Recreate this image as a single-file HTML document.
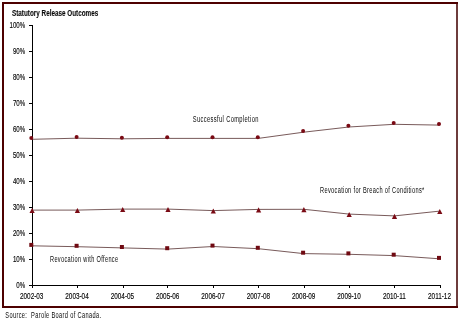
<!DOCTYPE html>
<html><head><meta charset="utf-8">
<style>
html,body{margin:0;padding:0;background:#fff;}
body{width:460px;height:323px;overflow:hidden;position:relative;}
svg{position:absolute;left:0;top:0;will-change:transform;}
text{font-family:"Liberation Sans",sans-serif;}
</style></head>
<body>
<svg width="460" height="323" viewBox="0 0 460 323">
  <!-- frame -->
  <rect x="456" y="2" width="2" height="306" fill="#6e3c3c"/>
  <rect x="2" y="2" width="456" height="2" fill="#4d0000"/>
  <rect x="2" y="2" width="2" height="306" fill="#4d0000"/>
  <rect x="2" y="306" width="456" height="2" fill="#4d0000"/>

  <!-- title -->
  <text font-size="8.3" font-weight="bold" fill="#0a0a0a" style="stroke:#000;stroke-width:0.1" transform="translate(12,16) scale(0.765,1)">Statutory Release Outcomes</text>

  <!-- y axis -->
  <rect x="32" y="25" width="1" height="263" fill="#000"/>
  <g fill="#000">
    <rect x="29" y="25" width="3" height="1"/>
    <rect x="29" y="51" width="3" height="1"/>
    <rect x="29" y="77" width="3" height="1"/>
    <rect x="29" y="103" width="3" height="1"/>
    <rect x="29" y="129" width="3" height="1"/>
    <rect x="29" y="155" width="3" height="1"/>
    <rect x="29" y="181" width="3" height="1"/>
    <rect x="29" y="207" width="3" height="1"/>
    <rect x="29" y="233" width="3" height="1"/>
    <rect x="29" y="259" width="3" height="1"/>
  </g>
  <!-- x axis -->
  <rect x="29" y="285" width="412" height="1" fill="#000"/>
  <g fill="#000">
    <rect x="32" y="285" width="1" height="3"/>
    <rect x="77" y="285" width="1" height="3"/>
    <rect x="123" y="285" width="1" height="3"/>
    <rect x="167" y="285" width="1" height="3"/>
    <rect x="213" y="285" width="1" height="3"/>
    <rect x="258" y="285" width="1" height="3"/>
    <rect x="304" y="285" width="1" height="3"/>
    <rect x="349" y="285" width="1" height="3"/>
    <rect x="394" y="285" width="1" height="3"/>
    <rect x="440" y="285" width="1" height="3"/>
  </g>

  <!-- y labels -->
  <g font-size="8.5" fill="#0a0a0a" text-anchor="end" style="stroke:#000;stroke-width:0.15">
    <text transform="translate(25.2,28) scale(0.72,1)">100%</text>
    <text transform="translate(25.2,54) scale(0.72,1)">90%</text>
    <text transform="translate(25.2,80) scale(0.72,1)">80%</text>
    <text transform="translate(25.2,106) scale(0.72,1)">70%</text>
    <text transform="translate(25.2,132) scale(0.72,1)">60%</text>
    <text transform="translate(25.2,158) scale(0.72,1)">50%</text>
    <text transform="translate(25.2,184) scale(0.72,1)">40%</text>
    <text transform="translate(25.2,210) scale(0.72,1)">30%</text>
    <text transform="translate(25.2,236) scale(0.72,1)">20%</text>
    <text transform="translate(25.2,262) scale(0.72,1)">10%</text>
    <text transform="translate(25.2,288) scale(0.72,1)">0%</text>
  </g>
  <!-- x labels -->
  <g font-size="8.5" fill="#0a0a0a" text-anchor="middle" style="stroke:#000;stroke-width:0.15">
    <text transform="translate(31.7,299) scale(0.75,1)">2002-03</text>
    <text transform="translate(77,299) scale(0.75,1)">2003-04</text>
    <text transform="translate(122.4,299) scale(0.75,1)">2004-05</text>
    <text transform="translate(167.7,299) scale(0.75,1)">2005-06</text>
    <text transform="translate(213,299) scale(0.75,1)">2006-07</text>
    <text transform="translate(258.4,299) scale(0.75,1)">2007-08</text>
    <text transform="translate(303.7,299) scale(0.75,1)">2008-09</text>
    <text transform="translate(349,299) scale(0.75,1)">2009-10</text>
    <text transform="translate(394.4,299) scale(0.75,1)">2010-11</text>
    <text transform="translate(439.5,299) scale(0.75,1)">2011-12</text>
  </g>

  <!-- series lines -->
  <g fill="none" stroke="#553030" stroke-width="0.8">
    <polyline points="31.8,139.3 77.1,138.2 122.4,138.8 167.7,138.4 213.0,138.4 258.3,138.4 303.6,132.2 348.9,127.0 394.2,124.3 439.5,125.1"/>
    <polyline points="32.1,210.1 77.4,210.1 122.7,209.1 168.0,209.1 213.3,210.6 258.6,209.4 303.9,209.3 349.2,214.1 394.5,215.9 439.8,211.1"/>
    <polyline points="31.8,245.8 77.1,246.7 122.4,247.9 167.7,249.1 213.0,246.5 258.3,248.7 303.6,253.6 348.9,254.3 394.2,255.6 439.5,258.8"/>
  </g>
  <!-- markers -->
  <g fill="#7a0a14">
    <circle cx="31.3" cy="138.1" r="2.0"/>
    <circle cx="76.6" cy="137.0" r="2.0"/>
    <circle cx="121.9" cy="137.65" r="2.0"/>
    <circle cx="167.2" cy="137.2" r="2.0"/>
    <circle cx="212.5" cy="137.2" r="2.0"/>
    <circle cx="257.8" cy="137.25" r="2.0"/>
    <circle cx="303.1" cy="131.0" r="2.0"/>
    <circle cx="348.4" cy="125.8" r="2.0"/>
    <circle cx="393.7" cy="123.1" r="2.0"/>
    <circle cx="439.0" cy="123.9" r="2.0"/>
  </g>
  <g fill="#7a0a14">
    <path d="M32.1,207.9 l2.6,5.2 h-5.2z"/>
    <path d="M77.4,207.9 l2.6,5.2 h-5.2z"/>
    <path d="M122.7,206.9 l2.6,5.2 h-5.2z"/>
    <path d="M168.0,206.9 l2.6,5.2 h-5.2z"/>
    <path d="M213.3,208.4 l2.6,5.2 h-5.2z"/>
    <path d="M258.6,207.2 l2.6,5.2 h-5.2z"/>
    <path d="M303.9,207.1 l2.6,5.2 h-5.2z"/>
    <path d="M349.2,211.9 l2.6,5.2 h-5.2z"/>
    <path d="M394.5,213.7 l2.6,5.2 h-5.2z"/>
    <path d="M439.8,208.9 l2.6,5.2 h-5.2z"/>
  </g>
  <g fill="#700a12">
    <rect x="29.30" y="242.9" width="4" height="4"/>
    <rect x="74.60" y="243.8" width="4" height="4"/>
    <rect x="119.90" y="245.0" width="4" height="4"/>
    <rect x="165.20" y="246.2" width="4" height="4"/>
    <rect x="210.50" y="243.6" width="4" height="4"/>
    <rect x="255.80" y="245.8" width="4" height="4"/>
    <rect x="301.10" y="250.7" width="4" height="4"/>
    <rect x="346.40" y="251.4" width="4" height="4"/>
    <rect x="391.70" y="252.7" width="4" height="4"/>
    <rect x="437.00" y="255.9" width="4" height="4"/>
  </g>

  <!-- series labels -->
  <g font-size="8.25" fill="#0a0a0a">
    <text letter-spacing="0.5" transform="translate(192.8,122.3) scale(0.70,1)">Successful Completion</text>
    <text letter-spacing="0.5" transform="translate(320,193.4) scale(0.684,1)">Revocation for Breach of Conditions*</text>
    <text letter-spacing="0.5" transform="translate(50,262.3) scale(0.68,1)">Revocation with Offence</text>
  </g>
  <text font-size="8.25" fill="#0a0a0a" letter-spacing="0.5" style="white-space:pre" transform="translate(5.3,318.3) scale(0.688,1)">Source:  Parole Board of Canada.</text>
</svg>
</body></html>
